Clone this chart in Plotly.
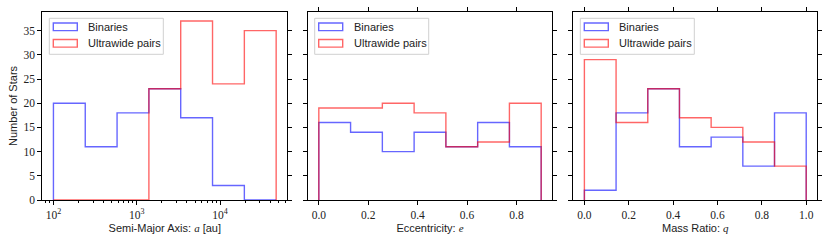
import numpy as np
import plotly.graph_objects as go

# ---------------- data ----------------
n_bins = 7
a_lo, a_hi = 100.0, 47000.0           # semi-major axis bin range [au]
a_binaries = [20, 11, 18, 23, 17, 3, 0]
a_ultrawide = [0, 0, 0, 23, 37, 24, 35]

e_lo, e_hi = 0.0, 0.9                 # eccentricity bin range
e_binaries = [16, 14, 10, 14, 11, 16, 11]
e_ultrawide = [19, 19, 20, 18, 11, 12, 20]

q_lo, q_hi = 0.0, 1.0                 # mass ratio bin range
q_binaries = [2, 18, 23, 11, 13, 7, 18]
q_ultrawide = [29, 16, 23, 17, 15, 12, 7]

series_names = ["Binaries", "Ultrawide pairs"]
MI = "<span style=\"font-family:Liberation Serif;font-style:italic\">%s</span>"
x_titles = ["Semi-Major Axis: " + MI % "a" + " [au]", "Eccentricity: " + MI % "e", "Mass Ratio: " + MI % "q"]
y_title = "Number of Stars"
y_tickvals = [0, 5, 10, 15, 20, 25, 30, 35]

# ---------------- style ----------------
W, H = 830, 243
BLUE = "rgba(0,0,255,0.6)"
RED = "rgba(255,0,0,0.6)"
SERIF = "Liberation Serif"
SANS = "Liberation Sans"
LW = 1.4

panel_px = [(42.3, 287.3), (307.7, 552.3), (573.3, 817.3)]
top_px, bot_px = 12.0, 200.0


def px2x(px):
    return px / W


def px2y(py):
    return 1 - py / H


def step_xy(edges, counts):
    edges = list(edges)
    x = [edges[0]] + edges[:-1] + [edges[-1], edges[-1]]
    y = [0] + list(counts) + [counts[-1], 0]
    return x, y


a_edges = np.logspace(np.log10(a_lo), np.log10(a_hi), n_bins + 1)
e_edges = np.linspace(e_lo, e_hi, n_bins + 1)
q_edges = np.linspace(q_lo, q_hi, n_bins + 1)

panels = [
    (a_edges, a_binaries, a_ultrawide),
    (e_edges, e_binaries, e_ultrawide),
    (q_edges, q_binaries, q_ultrawide),
]

fig = go.Figure()
for i, (edges, b, u) in enumerate(panels):
    xa = "x" if i == 0 else f"x{i+1}"
    ya = "y" if i == 0 else f"y{i+1}"
    for counts, col, name in [(b, BLUE, series_names[0]), (u, RED, series_names[1])]:
        x, y = step_xy(edges, counts)
        fig.add_trace(go.Scatter(x=x, y=y, mode="lines", line=dict(color=col, width=LW, shape="hv"),
                                 name=name, showlegend=False, xaxis=xa, yaxis=ya, hoverinfo="skip"))

ymax = 1.05 * max(max(a_binaries), max(a_ultrawide), max(e_binaries), max(e_ultrawide),
                  max(q_binaries), max(q_ultrawide))

common_axis = dict(showline=True, linecolor="black", linewidth=1, mirror="ticks", ticks="outside",
                   ticklen=4, tickwidth=1, tickcolor="black", showgrid=False, zeroline=False,
                   automargin=False, tickfont=dict(family=SERIF, size=11.5, color="#222"))

ydom = [px2y(bot_px), px2y(top_px)]

layout = dict(width=W, height=H, margin=dict(l=0, r=0, t=0, b=0, pad=0), plot_bgcolor="white",
              paper_bgcolor="white", showlegend=False)

# x axes
la, ha = np.log10(a_edges[0]), np.log10(a_edges[-1])
pad = 0.05 * (ha - la)
minor_vals = [m * 10 ** k for k in range(1, 5) for m in range(2, 10)]
xdom1 = [px2x(panel_px[0][0]), px2x(panel_px[0][1])]
layout["xaxis"] = dict(common_axis, type="log", domain=xdom1, mirror=True,
                       range=[la - pad, ha + pad], tickvals=[100, 1000, 10000],
                       ticktext=["10<sup>2</sup>", "10<sup>3</sup>", "10<sup>4</sup>"],
                       minor=dict(tickvals=minor_vals, ticks="outside", ticklen=2, tickwidth=0.8,
                                  tickcolor="black", showgrid=False),
                       title=dict(text=x_titles[0], font=dict(family=SANS, size=11, color="#222"), standoff=4),
                       anchor="y")
# top axis of the first panel: major ticks only
layout["xaxis4"] = dict(type="log", domain=xdom1, range=[la - pad, ha + pad], overlaying="x", side="top",
                        anchor="y", tickvals=[100, 1000, 10000], showticklabels=False, ticks="outside",
                        ticklen=4, tickwidth=1, tickcolor="black", showgrid=False, zeroline=False,
                        showline=False, automargin=False)
for i, (lo, hi, dt) in enumerate([(e_lo, e_hi, 0.2), (q_lo, q_hi, 0.2)], start=2):
    p = 0.05 * (hi - lo)
    layout[f"xaxis{i}"] = dict(common_axis, domain=[px2x(panel_px[i-1][0]), px2x(panel_px[i-1][1])],
                               range=[lo - p, hi + p], tick0=0, dtick=dt, tickformat=".1f",
                               title=dict(text=x_titles[i-1], font=dict(family=SANS, size=11, color="#222"), standoff=4),
                               anchor=f"y{i}")

layout["yaxis"] = dict(common_axis, domain=ydom, range=[0, ymax], tickvals=y_tickvals, anchor="x",
                       title=dict(text=y_title, font=dict(family=SANS, size=11, color="#222"), standoff=3))
for i in (2, 3):
    layout[f"yaxis{i}"] = dict(common_axis, domain=ydom, range=[0, ymax], tickvals=y_tickvals,
                               showticklabels=False, matches="y", anchor=f"x{i}")

# legends (drawn per panel, matplotlib-style patches)
shapes, annotations = [], []
for (L, R) in panel_px:
    shapes.append(dict(type="rect", xref="paper", yref="paper",
                       x0=px2x(L + 7), x1=px2x(L + 121), y0=px2y(54.3), y1=px2y(18.3),
                       line=dict(color="#d0d0d0", width=1), fillcolor="rgba(255,255,255,0.8)", layer="above"))
    for cy, col, name in [(26.8, BLUE, series_names[0]), (43.3, RED, series_names[1])]:
        shapes.append(dict(type="rect", xref="paper", yref="paper",
                           x0=px2x(L + 11), x1=px2x(L + 35), y0=px2y(cy + 3.8), y1=px2y(cy - 3.8),
                           line=dict(color=col, width=LW), fillcolor="rgba(0,0,0,0)", layer="above"))
        annotations.append(dict(text=name, xref="paper", yref="paper", x=px2x(L + 44), y=px2y(cy),
                                xanchor="left", yanchor="middle", showarrow=False,
                                font=dict(family=SANS, size=11, color="#222")))
layout["shapes"] = shapes
layout["annotations"] = annotations

fig.update_layout(**layout)
fig.write_html("out.html", config={"displayModeBar": False},
               post_script="document.body.style.margin='0';")
